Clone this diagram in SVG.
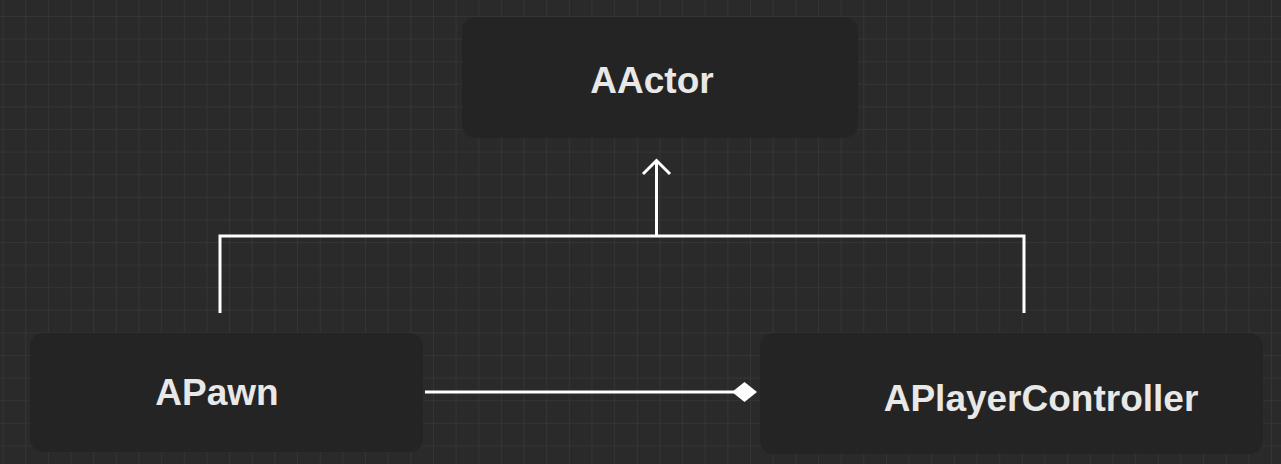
<svg xmlns="http://www.w3.org/2000/svg" width="1281" height="464" viewBox="0 0 1281 464">
  <defs>
    <pattern id="grid" x="2.6" y="16" width="22.65" height="22.6" patternUnits="userSpaceOnUse">
      <path d="M0 0V22.6M0 0H22.65" fill="none" stroke="#383838" stroke-width="1.5"/>
    </pattern>
    <filter id="soft" x="-10%" y="-20%" width="120%" height="140%">
      <feGaussianBlur stdDeviation="1.2"/>
    </filter>
  </defs>
  <style>
    .node rect { fill: #242424; }
    .node text { font-family: "Liberation Sans", Arial, sans-serif; font-weight: bold; font-size: 37px; fill: #e8e8e8; text-anchor: middle; }
    .conn { stroke: #ffffff; stroke-width: 3; fill: none; }
  </style>
  <rect width="1281" height="464" fill="#2a2a2a"/>
  <rect width="1281" height="464" fill="url(#grid)"/>

  <g id="node-aactor" class="node">
    <rect x="462" y="17" width="396" height="121" rx="14"/>
    <text x="652" y="93">AActor</text>
  </g>
  <g id="node-apawn" class="node">
    <rect x="30" y="333" width="393" height="119" rx="14"/>
    <text x="217" y="405">APawn</text>
  </g>
  <g id="node-aplayercontroller" class="node">
    <rect x="760" y="333" width="503" height="121" rx="14"/>
    <text x="1041" y="411">APlayerController</text>
  </g>

  <g id="connectors">
    <path class="conn" d="M220 313V236H1024V313"/>
    <path class="conn" d="M656.5 236V160"/>
    <path class="conn" d="M643 174L656.5 160.5L670 174"/>
    <path class="conn" d="M425 392H735"/>
    <path d="M732 392L744.5 382L757 392L744.5 402Z" fill="#ffffff"/>
  </g>
</svg>
